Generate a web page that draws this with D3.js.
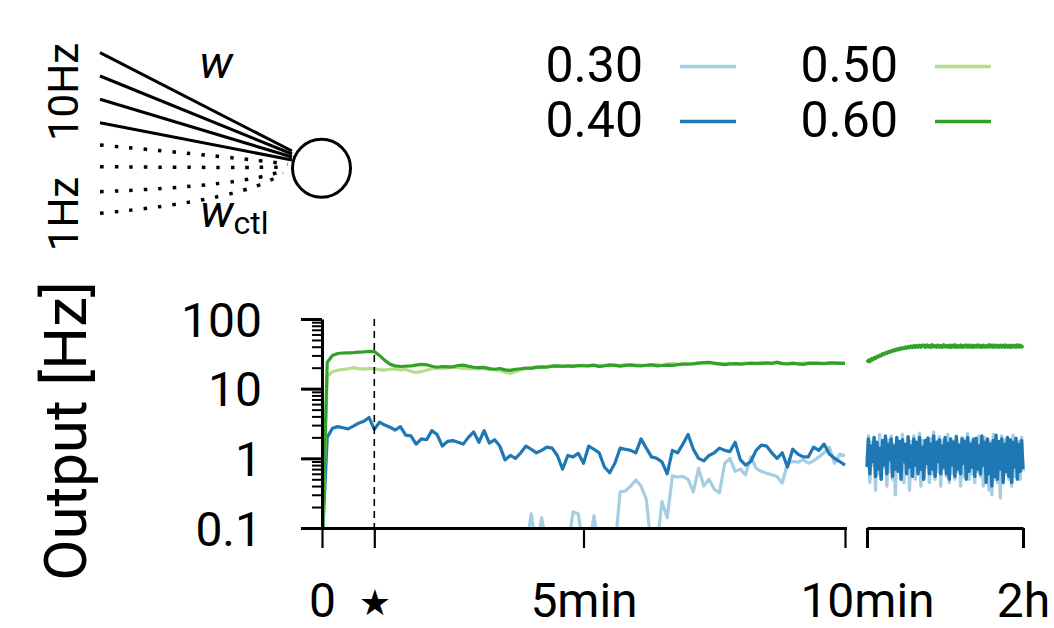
<!DOCTYPE html>
<html><head><meta charset="utf-8">
<script src="https://cdn.jsdelivr.net/npm/d3@7"></script>
<style>
body{margin:0;background:#fff}
svg{display:block}
text{font-family:Roboto,'DejaVu Sans',sans-serif;fill:#000}
</style>
</head><body>
<svg id="chart" width="1054" height="628"></svg>
<script>
// ---------------- data ----------------
const seriesNames = ["0.30", "0.40", "0.50", "0.60"];
const seriesColors = ["#a6cee3", "#1f78b4", "#b2df8a", "#33a02c"];

// Panel 1: 0 .. 10 min, one sample every 0.1 min
const p1Step = 0.1;
const p1_030 = [
 0.05,0.05,0.05,0.05,0.05,0.05,0.05,0.05,0.05,0.05,
 0.05,0.05,0.05,0.05,0.05,0.05,0.05,0.05,0.05,0.05,
 0.05,0.05,0.05,0.05,0.05,0.05,0.05,0.05,0.05,0.05,
 0.05,0.05,0.05,0.05,0.05,0.05,0.05,0.05,0.05,0.05,
 0.16,0.05,0.14,0.05,0.05,0.05,0.05,0.05,0.17,0.16,
 0.05,0.05,0.15,0.05,0.05,0.05,0.05,0.33,0.34,0.40,
 0.49,0.40,0.26,0.05,0.05,0.24,0.14,0.56,0.54,0.55,
 0.50,0.33,0.72,0.40,0.50,0.36,0.32,0.85,1.00,0.65,
 0.70,0.58,1.05,0.72,0.65,0.61,0.58,0.55,0.44,0.85,
 0.90,0.88,0.95,0.85,0.92,1.05,1.20,1.45,0.85,1.15,
 1.10];
const p1_040 = [
 0.05,2.0,2.7,2.85,2.75,2.65,2.9,3.2,3.4,3.85,
 2.6,3.3,3.0,2.8,2.55,2.85,2.15,2.1,1.6,1.9,
 1.85,2.5,2.2,1.5,1.75,1.8,1.7,1.6,2.0,2.4,
 1.7,2.5,1.65,1.85,1.5,0.95,1.1,1.0,1.2,1.5,
 1.35,1.2,1.3,1.45,1.4,1.1,0.7,1.1,1.05,1.18,
 0.85,1.5,1.35,1.2,0.75,0.62,0.85,1.4,1.35,1.3,
 1.2,1.9,1.4,1.05,1.0,0.89,0.6,1.3,1.2,1.6,
 2.2,1.35,1.0,0.92,1.1,1.2,1.4,1.3,1.25,1.7,
 0.95,0.8,0.9,1.3,1.55,1.5,1.2,1.0,1.2,0.75,
 1.35,1.15,1.05,1.05,1.45,1.3,1.6,1.15,1.0,0.9,
 0.8];
const p1_050 = [
 0.05,15,17.5,18.4,18.9,19.3,20,19.4,19.1,19.6,
 19.2,18.8,18.5,19,19.2,18.6,18.9,17.8,17.1,17.6,
 18.4,19.3,19.8,19.5,19.9,20.3,20.1,19.6,19.3,19.5,
 19.2,19.5,18.9,18.7,18.2,17.3,16.6,17.5,18.6,19.4,
 19.9,20.6,20.2,20.9,21.3,20.7,21.6,21.0,21.4,21.1,
 21.8,20.8,21.5,21.0,21.8,21.3,21.9,21.7,22.4,21.6,
 22.0,21.8,21.5,22.1,22.3,21.7,22.6,22.9,22.4,22.8,
 23.1,22.5,23.5,23.2,23.6,22.9,22.4,22.8,23.2,22.7,
 23.0,23.5,22.9,23.4,23.8,23.1,23.6,24.0,23.3,23.0,
 23.4,22.8,23.3,23.6,23.0,23.4,23.2,23.7,23.3,23.5,
 23.2];
const p1_060 = [
 0.05,24,30,32,32.5,32.7,33,33.5,33.8,34.3,
 34,30,25.5,22.5,21.2,20.8,21,21.3,21.8,22.3,
 22,21,20.3,20.8,20.5,20.6,21.5,21.8,21,20.3,
 20,20.2,19.4,19,19.5,18.6,18.3,19,19.3,19.8,
 19.6,20.2,20.6,20.3,21,21.2,20.8,21.3,20.9,21.5,
 21.2,21.4,21.8,20.9,21.3,21.9,21.6,21.1,21.5,21.9,
 21.4,21.2,21.7,21.9,21.3,21.5,21.8,21.6,22.1,22.5,
 22.4,22.8,23.2,23.6,23.9,23.2,22.7,22.1,22.6,22.9,
 22.5,22.8,23.3,22.9,23.1,23.4,23.0,23.8,22.9,22.6,
 23.0,22.7,22.3,23.0,23.3,23.1,22.8,23.2,23.4,23.0,
 23.1];

// Panel 2: 10 min .. 2 h, evenly spaced samples
const p2Start = 10, p2End = 120;
const p2_030 = [
 0.9,2.1,0.45,1.7,0.8,1.9,0.35,1.6,0.6,2.2,
 0.5,1.5,0.75,2.0,0.4,1.8,0.65,2.1,0.5,1.6,
 0.3,1.9,0.7,1.7,0.55,2.2,0.45,1.5,0.8,2.0,
 0.35,1.75,0.6,2.1,0.5,1.6,0.7,2.3,0.4,1.8,
 0.55,1.65,0.75,2.0,0.45,1.9,0.6,2.4,0.5,1.7,
 0.65,2.05,0.4,1.8,0.7,1.6,0.55,2.2,0.45,1.9,
 0.6,1.75,0.5,2.1,0.65,1.6,0.4,2.0,0.55,1.85,
 0.7,2.25,0.5,1.7,0.6,1.95,0.45,1.8,0.65,2.1,
 0.55,1.6,0.4,2.0,0.6,1.85,0.35,1.7,0.3,2.2,
 0.5,1.9,0.45,1.75,0.27,2.1,0.55,1.8,0.6,2.0,
 0.5,1.7,0.4,2.15,0.55,1.9,0.6,1.75,0.5,2.0,0.65];
const p2_040 = [
 0.75,1.9,0.6,1.5,0.9,2.0,0.55,1.7,0.7,1.4,
 0.5,1.8,0.8,2.1,0.6,1.6,0.95,1.9,0.55,1.5,
 0.7,2.0,0.65,1.75,0.5,1.85,0.9,1.6,0.6,2.05,
 0.75,1.5,0.55,1.9,0.8,1.7,0.6,2.0,0.7,1.45,
 0.5,1.8,0.85,1.95,0.6,1.6,0.7,2.1,0.55,1.7,
 0.9,1.85,0.6,1.5,0.75,2.0,0.6,1.65,0.5,1.9,
 0.8,1.7,0.55,2.05,0.7,1.55,0.6,1.9,0.85,1.75,
 0.5,2.0,0.65,1.6,0.75,1.85,0.55,1.95,0.7,1.5,
 0.6,2.1,0.8,1.7,0.45,1.9,0.6,1.6,0.4,1.8,
 0.55,2.15,0.5,1.75,0.7,1.9,0.45,1.6,0.65,2.0,
 0.55,1.85,0.45,1.7,0.75,1.95,0.5,1.6,0.65,1.8,0.7];
const p2_050 = [
 23.6,25.1,24.9,26.3,26.4,27.4,27.6,28.6,28.9,29.7,
 30.1,31.0,31.5,32.3,32.7,33.5,33.8,34.6,34.9,35.7,
 35.9,36.6,36.8,37.5,37.5,38.2,38.2,38.9,38.8,39.7,
 39.3,40.1,39.7,40.8,39.9,41.0,40.1,41.3,40.0,41.4,
 42.4,39.0,41.9,40.3,42.0,39.5,42.1,39.7,41.8,39.1,
 42.5,39.4,41.2,39.6,42.7,39.8,41.9,39.2,41.6,39.9,
 42.3,39.3,42.0,39.9,41.8,39.5,41.7,39.6,42.2,39.4,
 41.9,39.8,42.3,39.2,41.6,39.7,42.1,39.5,41.9,39.9,
 42.2,39.6,41.6,39.3,42.0,39.7,42.1,39.4,42.4,39.8,
 41.7,39.3,42.2,39.6,41.5,39.9,42.3,39.4,41.8,39.8,
 42.0,39.5,41.6,39.7,42.2,39.3,41.9,39.9,42.3,39.4,42.0];
const p2_060 = [
 24.0,25.6,24.5,26.8,25.9,27.9,27.0,29.1,28.4,30.2,
 29.6,31.6,30.9,32.8,32.1,34.0,33.2,35.1,34.3,36.2,
 35.3,37.1,36.2,38.0,36.9,38.8,37.6,39.5,38.2,40.3,
 38.7,40.8,39.1,41.4,39.3,41.6,39.5,41.9,39.4,42.0,
 41.8,39.4,42.3,39.8,41.5,39.2,42.6,40.1,41.2,39.5,
 42.0,39.7,41.7,39.1,42.4,40.0,41.4,39.6,42.1,39.3,
 41.9,39.8,42.5,39.4,41.3,39.9,42.2,39.2,41.6,40.0,
 42.3,39.5,41.8,39.7,42.0,39.3,41.5,39.9,42.4,39.6,
 41.7,39.2,42.1,39.8,41.4,39.5,42.6,39.9,41.9,39.4,
 42.2,39.7,41.6,39.3,42.0,39.8,41.8,39.5,42.3,39.6,
 41.5,39.2,42.1,39.9,41.7,39.4,42.4,39.7,41.9,39.6,41.8];

// axis ticks
const yMajorTicks = [0.1, 1, 10, 100];
const yMajorLabels = ["0.1", "1", "10", "100"];
const p1Ticks = [0, 1, 5, 10];
const p1TickLabels = ["0", "\u2605", "5min", ""];
const p2Ticks = [10, 120];
const p2TickLabels = ["10min", "2h"];
const markerTime = 1; // dashed line (star)

// ---------------- drawing ----------------
const svg = d3.select("#chart");

const yTop = 319, yBot = 528;
const y = d3.scaleLog().domain([0.1, 100]).range([yBot, yTop]);
const x1 = d3.scaleLinear().domain([0, 10]).range([322, 845]);
const x2 = d3.scaleLinear().domain([p2Start, p2End]).range([867, 1023]);

const defs = svg.append("defs");
defs.append("clipPath").attr("id", "clip1").append("rect")
  .attr("x", x1(0)).attr("y", yTop - 5).attr("width", x1(10) - x1(0) + 3).attr("height", yBot - yTop + 5);
defs.append("clipPath").attr("id", "clip2").append("rect")
  .attr("x", x2(p2Start) - 2).attr("y", yTop - 5).attr("width", x2(p2End) - x2(p2Start) + 4).attr("height", yBot - yTop + 5);

const p1Series = [p1_030, p1_040, p1_050, p1_060];
const p2Series = [p2_030, p2_040, p2_050, p2_060];

const line1 = d3.line().x((d, i) => x1(i * p1Step)).y(d => y(d));
const g1 = svg.append("g").attr("clip-path", "url(#clip1)");
p1Series.forEach((s, k) => {
  g1.append("path").datum(s).attr("d", line1)
    .attr("fill", "none").attr("stroke", seriesColors[k]).attr("stroke-width", 3.2)
    .attr("stroke-linejoin", "round");
});

const g2 = svg.append("g").attr("clip-path", "url(#clip2)");
p2Series.forEach((s, k) => {
  const n = s.length;
  const line2 = d3.line().x((d, i) => x2(p2Start + i * (p2End - p2Start) / (n - 1))).y(d => y(d));
  g2.append("path").datum(s).attr("d", line2)
    .attr("fill", "none").attr("stroke", seriesColors[k]).attr("stroke-width", 3.4)
    .attr("stroke-linejoin", "round");
});

// dashed marker line
svg.append("line")
  .attr("x1", x1(markerTime)).attr("x2", x1(markerTime))
  .attr("y1", y(100)).attr("y2", y(0.1))
  .attr("stroke", "#000").attr("stroke-width", 1.6).attr("stroke-dasharray", "7,5");

// y axis
const minorTicks = [];
[0.1, 1, 10].forEach(b => { for (let m = 2; m <= 9; m++) minorTicks.push(b * m); });
const yMinorAxis = d3.axisLeft(y).tickValues(minorTicks).tickSize(10).tickFormat("");
const gyMinor = svg.append("g").attr("transform", `translate(${x1(0)},0)`).call(yMinorAxis);
gyMinor.select(".domain").remove();
gyMinor.selectAll(".tick line").attr("stroke-width", 2);

const yAxis = d3.axisLeft(y).tickValues(yMajorTicks).tickSize(21).tickSizeOuter(0).tickPadding(39)
  .tickFormat((d, i) => yMajorLabels[i]);
const gy = svg.append("g").attr("transform", `translate(${x1(0)},0)`).call(yAxis);
gy.attr("font-family", null).attr("font-size", null);
gy.select(".domain").attr("stroke-width", 3);
gy.selectAll(".tick line").attr("stroke-width", 3);
gy.selectAll(".tick text").style("font-size", "48px").attr("dy", "0.36em");

// x axis panel 1
const xAxis1 = d3.axisBottom(x1).tickValues(p1Ticks).tickSize(20).tickSizeOuter(0)
  .tickFormat((d, i) => p1TickLabels[i]);
const gx1 = svg.append("g").attr("transform", `translate(0,${yBot})`).call(xAxis1);
gx1.attr("font-family", null).attr("font-size", null);
gx1.select(".domain").attr("stroke-width", 3).attr("stroke-linecap", "square");
gx1.selectAll(".tick line").attr("stroke-width", 2.2);
gx1.selectAll(".tick text").style("font-size", "48px").attr("y", 89).attr("dy", null);
gx1.selectAll(".tick text").filter((d, i) => i === 1)
  .style("font-family", "'DejaVu Sans'").style("font-size", "36px").attr("y", 87);

// x axis panel 2
const xAxis2 = d3.axisBottom(x2).tickValues(p2Ticks).tickSize(20).tickSizeOuter(0)
  .tickFormat((d, i) => p2TickLabels[i]);
const gx2 = svg.append("g").attr("transform", `translate(0,${yBot})`).call(xAxis2);
gx2.attr("font-family", null).attr("font-size", null);
gx2.select(".domain").attr("stroke-width", 3);
gx2.selectAll(".tick line").attr("stroke-width", 3);
gx2.selectAll(".tick text").style("font-size", "48px").attr("y", 89).attr("dy", null);

// y label
svg.append("text")
  .attr("transform", "translate(86,431) rotate(-90)")
  .attr("text-anchor", "middle")
  .style("font-size", "60px")
  .text("Output [Hz]");

// legend
const legendCols = [{tx: 643, lx: 680}, {tx: 898, lx: 935}];
const legendRows = [82, 137];
seriesNames.forEach((name, k) => {
  const c = legendCols[Math.floor(k / 2)], ry = legendRows[k % 2];
  svg.append("text").attr("x", c.tx).attr("y", ry).attr("text-anchor", "end")
    .style("font-size", "50px").text(name);
  svg.append("line").attr("x1", c.lx).attr("x2", c.lx + 56)
    .attr("y1", ry - 15.5).attr("y2", ry - 15.5)
    .attr("stroke", seriesColors[k]).attr("stroke-width", 3.5);
});

// ---------------- input diagram ----------------
const dg = svg.append("g");
const solidStarts = [52.7, 76, 99.3, 122.7];
const solidEnds = [151, 154, 157, 160];
solidStarts.forEach((sy, i) => {
  dg.append("line").attr("x1", 100).attr("y1", sy).attr("x2", 292).attr("y2", solidEnds[i])
    .attr("stroke", "#000").attr("stroke-width", 3);
});
const dotted = [
  {y0: 145, cx: 240, cy: 158, ex: 288, ey: 164},
  {y0: 166.7, cx: 250, cy: 168, ex: 287, ey: 167},
  {y0: 191.7, cx: 245, cy: 186, ex: 285, ey: 170},
  {y0: 213.3, cx: 245, cy: 200, ex: 283, ey: 173}
];
dotted.forEach(d => {
  dg.append("path").attr("d", `M100,${d.y0} Q${d.cx},${d.cy} ${d.ex},${d.ey}`)
    .attr("fill", "none").attr("stroke", "#000").attr("stroke-width", 3.5)
    .attr("stroke-dasharray", "3.5,11");
});
dg.append("circle").attr("cx", 321.5).attr("cy", 168.3).attr("r", 29)
  .attr("fill", "#fff").attr("stroke", "#000").attr("stroke-width", 3);

dg.append("text").attr("x", 216).attr("y", 78).attr("text-anchor", "middle")
  .style("font-size", "46px").style("font-style", "italic").text("w");
const wctl = dg.append("text").attr("x", 200).attr("y", 227).style("font-size", "46px");
wctl.append("tspan").style("font-style", "italic").text("w");
wctl.append("tspan").attr("dy", 7).style("font-size", "32px").text("ctl");

dg.append("text").attr("transform", "translate(78,92) rotate(-90)").attr("text-anchor", "middle")
  .style("font-size", "42px").text("10Hz");
dg.append("text").attr("transform", "translate(78,214) rotate(-90)").attr("text-anchor", "middle")
  .style("font-size", "42px").text("1Hz");
</script>
</body></html>
